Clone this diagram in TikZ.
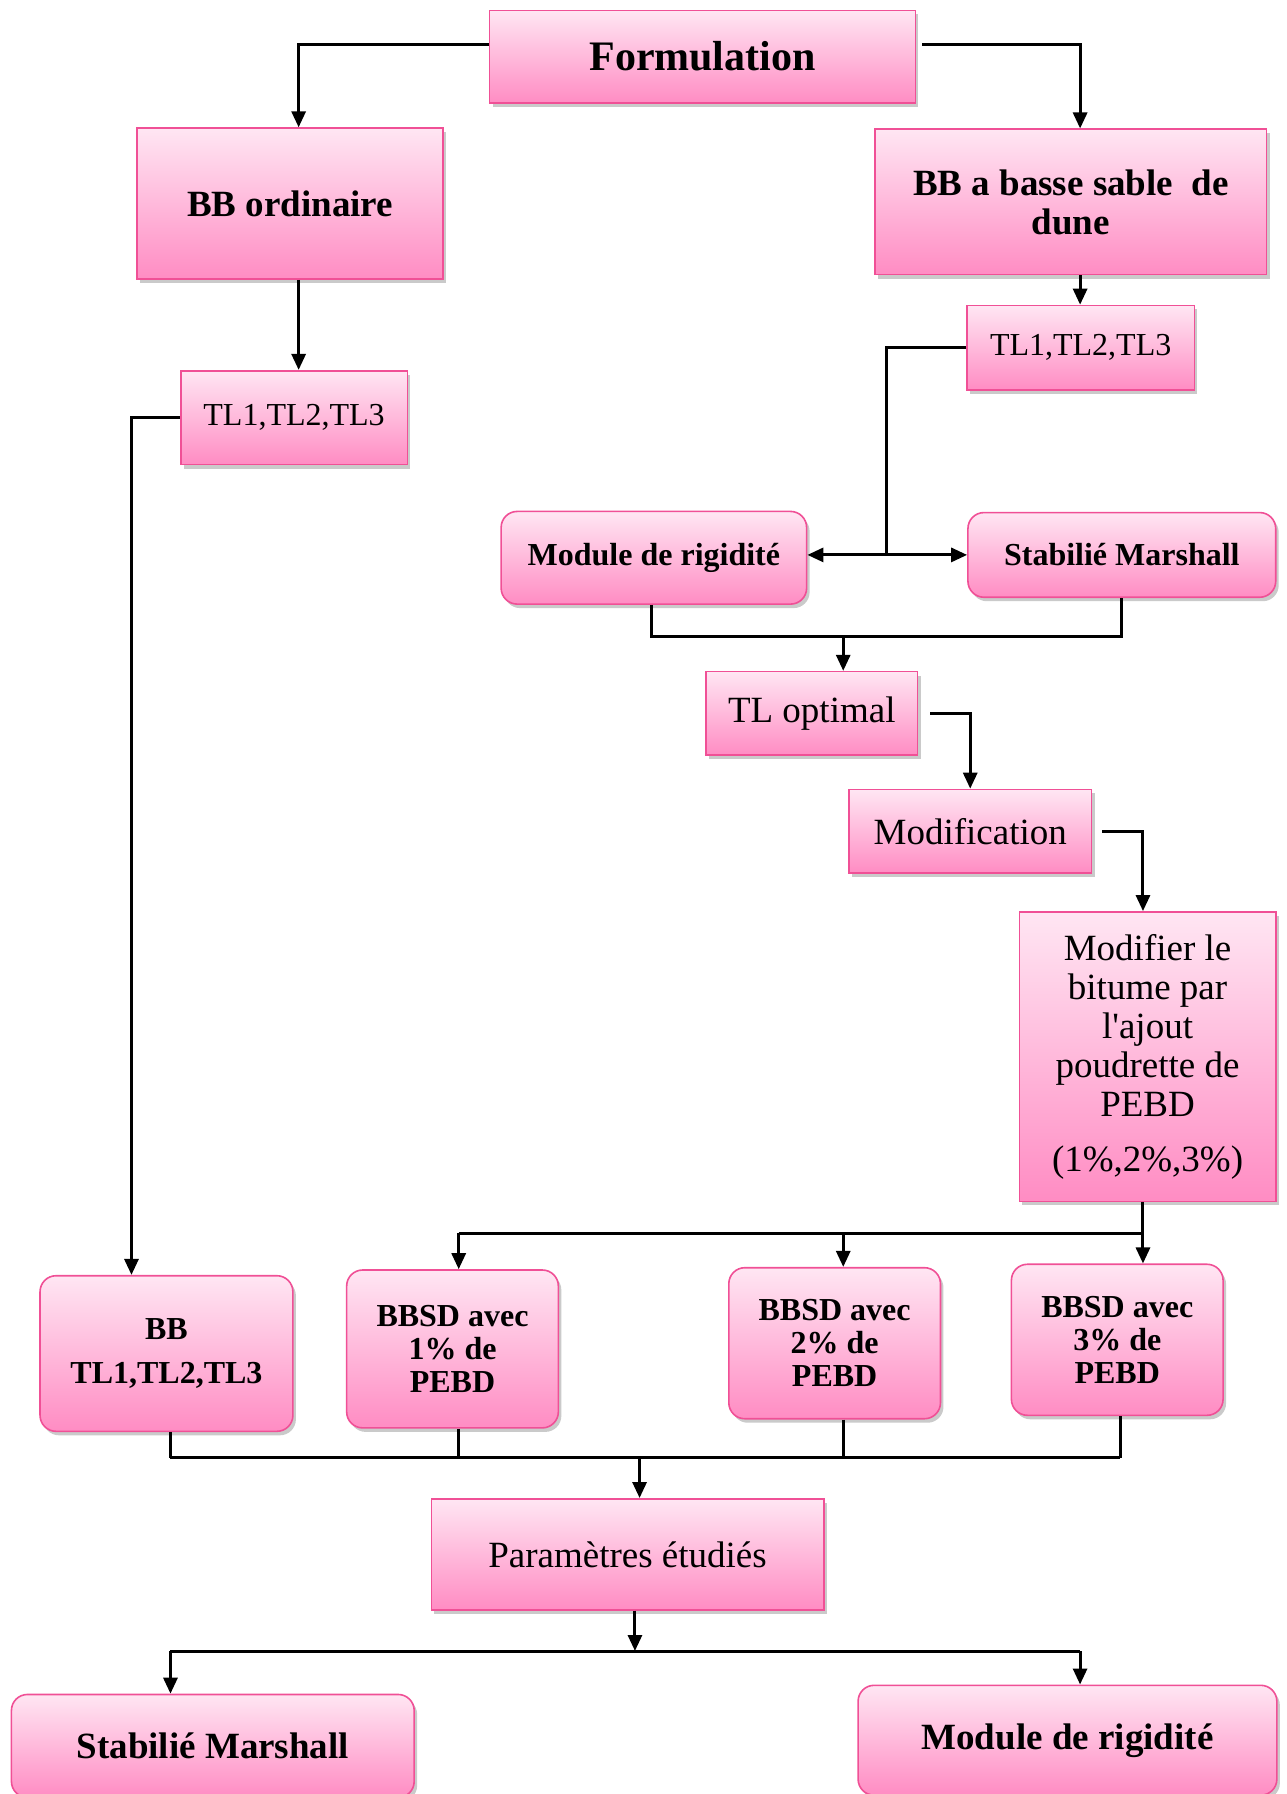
\documentclass[tikz,border=0pt]{standalone}
\usepackage{fontspec}
\setmainfont{Liberation Serif}
\usetikzlibrary{arrows.meta,shadows}

\definecolor{pinktop}{RGB}{255,230,243}
\definecolor{pinkbot}{RGB}{255,140,195}
\definecolor{pinkline}{RGB}{240,80,150}

\tikzset{
  box/.style={draw=pinkline, line width=0.8pt, top color=pinktop, bottom color=pinkbot,
    align=center, inner sep=2pt,
    drop shadow={shadow xshift=1.5pt, shadow yshift=-2pt, opacity=0.35, fill=black!60}},
  rbox/.style={box, rounded corners=8pt},
  sz/.style 2 args={minimum width=#1*0.5721pt, minimum height=#2*0.5721pt},
  ln/.style={line width=1.5pt},
  arr/.style={line width=1.5pt, -{Triangle[length=8pt,width=7pt]}},
  bigb/.style={font=\fontsize{18.5}{19.5}\selectfont\bfseries},
  smallb/.style={font=\fontsize{16}{16.6}\selectfont\bfseries},
  plain/.style={font=\fontsize{18.5}{19.5}\selectfont},
}

\begin{document}
\begin{tikzpicture}[x=0.5721pt, y=-0.5721pt]
\useasboundingbox (0,0) rectangle (1124,1568);

% Top
\node[box, sz={372}{81}, font=\fontsize{21}{25}\selectfont\bfseries] (form) at (614,49.5) {Formulation};
\node[box, sz={267}{132}, bigb] (bbo) at (253.5,178) {BB ordinaire};
\node[box, sz={342}{127}, bigb] (bbd) at (936,176.5) {BB a basse sable~ de\\dune};

% TL
\node[box, sz={198}{82}, font=\fontsize{16}{18}\selectfont] (tll) at (257,365) {TL1,TL2,TL3};
\node[box, sz={199}{74}, font=\fontsize{16}{18}\selectfont] (tlr) at (944.5,304) {TL1,TL2,TL3};

% Essais
\node[rbox, sz={267}{81}, smallb] (modr) at (571.5,487.5) {Module de rigidité};
\node[rbox, sz={269}{74}, smallb] (stab) at (980.5,485) {Stabilié Marshall};
\coordinate (split) at (775,485);
\coordinate (j1) at (737,556);

% Optimal + modification
\node[box, sz={185}{73}, plain] (tlopt) at (709.5,623.5) {TL optimal};
\node[box, sz={212}{73}, plain] (modif) at (848,726.5) {Modification};
\node[box, sz={224}{253}, plain] (modb) at (1003,923.5)
  {Modifier le\\bitume par\\l\textquotesingle ajout\\poudrette de\\PEBD\\[8pt](1\%,2\%,3\%)};

% Melanges
\node[rbox, sz={221}{136}, font=\fontsize{16}{22}\selectfont\bfseries] (bbtl) at (145.5,1183) {BB\\TL1,TL2,TL3};
\node[rbox, sz={185}{138}, smallb] (bbsd1) at (395.5,1179) {BBSD avec\\1\% de\\PEBD};
\node[rbox, sz={185}{132}, smallb] (bbsd2) at (729.5,1174) {BBSD avec\\2\% de\\PEBD};
\node[rbox, sz={185}{132}, smallb] (bbsd3) at (976.5,1171) {BBSD avec\\3\% de\\PEBD};
\coordinate (bus1) at (0,1078);
\coordinate (bus2) at (559,1274);

% Bas
\node[box, sz={343}{97}, plain] (param) at (548.5,1358.5) {Paramètres étudiés};
\node[rbox, sz={352}{90}, bigb] (stabb) at (186,1526) {Stabilié Marshall};
\node[rbox, sz={366}{96}, bigb] (modbot) at (933,1521) {Module de rigidité};
\coordinate (b3l) at (149,1443);
\coordinate (b3r) at (944,1443);

% Connectors
\draw[arr] ([yshift=6pt]form.west) -| ([xshift=4.3pt]bbo.north);
\draw[arr] ([xshift=3pt,yshift=6pt]form.east) -| ([xshift=4.6pt]bbd.north);
\draw[arr] ([xshift=4.3pt]bbo.south) -- ([xshift=4.3pt]bbo.south |- tll.north);
\draw[arr] ([xshift=4.6pt]bbd.south) -- ([xshift=4.6pt]bbd.south |- tlr.north);
\draw[arr] (tll.west) -| ([xshift=-17.5pt]bbtl.north);
\draw[ln] (tlr.west) -| (split);
\draw[arr] (split) -- (modr.east |- split);
\draw[arr] (split) -- (stab.west);
\draw[ln] ([xshift=-1pt]modr.south) |- (stab.south |- j1) -- (stab.south);
\draw[arr] (j1) -- (j1 |- tlopt.north);
\draw[arr] ([xshift=6pt]tlopt.east) -| (modif.north);
\draw[arr] ([xshift=5pt]modif.east) -| ([xshift=-2.3pt]modb.north);

\draw[ln] ([xshift=-2.3pt]modb.south) -- ([xshift=-2.3pt]modb.south |- bus1);
\draw[ln] ([xshift=3.1pt]bbsd1.north |- bus1) -- ([xshift=-2.3pt]modb.south |- bus1);
\draw[arr] ([xshift=3.1pt]bbsd1.north |- bus1) -- ([xshift=3.1pt]bbsd1.north);
\draw[arr] ([xshift=4.3pt]bbsd2.north |- bus1) -- ([xshift=4.3pt]bbsd2.north);
\draw[arr] ([xshift=-2.3pt]modb.south |- bus1) -- ([xshift=-2.3pt]modb.south |- bbsd3.north);

\foreach \n/\dx in {bbtl/2pt,bbsd1/3.1pt,bbsd2/4.3pt,bbsd3/1.4pt}
  \draw[ln] ([xshift=\dx]\n.south) -- ([xshift=\dx]\n.south |- bus2);
\draw[ln] ([xshift=2pt]bbtl.south |- bus2) -- ([xshift=1.4pt]bbsd3.south |- bus2);
\draw[arr] (bus2) -- (bus2 |- param.north);

\draw[arr] ([xshift=3.7pt]param.south) -- ([xshift=3.7pt]param.south |- b3l);
\draw[ln] (b3l) -- (b3r);
\draw[arr] (b3l) -- (b3l |- stabb.north);
\draw[arr] (b3r) -- (b3r |- modbot.north);

\end{tikzpicture}
\end{document}
